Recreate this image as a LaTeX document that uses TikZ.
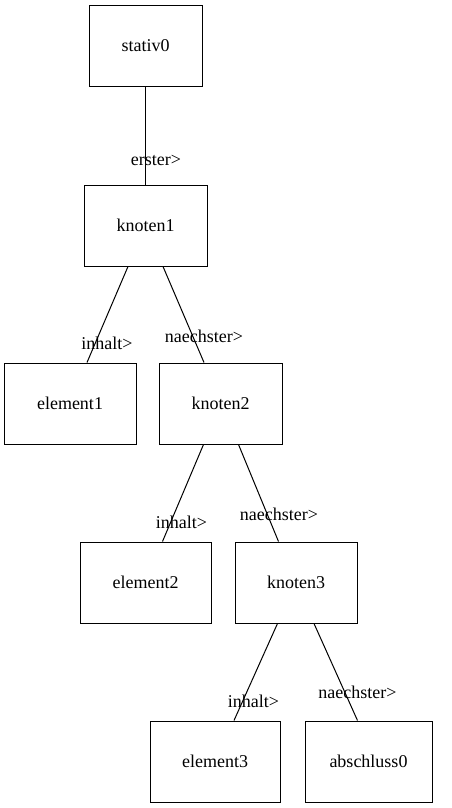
\documentclass[tikz,border=0pt]{standalone}
\usepackage{fontspec}
\setmainfont{Liberation Serif}
\usetikzlibrary{positioning}
\tikzset{
	listbox/.style={draw=black,line width=1pt,minimum height=81pt,inner sep=0pt,font=\fontsize{18}{20}\selectfont},
	refline/.style={black,line width=1pt},
	reflabel/.style={inner sep=0pt,font=\fontsize{18}{20}\selectfont}
}
\begin{document}
\begin{tikzpicture}[x=1pt,y=-1pt]
\useasboundingbox (0,0) rectangle (452,808);
% boxes
\node[listbox,minimum width=113pt,minimum height=80pt] (stativ0) at (145.5,46) {stativ0};
\node[listbox,minimum width=123pt] (knoten1) at (145.5,225.5) {knoten1};
\node[listbox,minimum width=132pt] (element1) at (70,403.5) {element1};
\node[listbox,minimum width=123pt] (knoten2) at (220.5,403.5) {knoten2};
\node[listbox,minimum width=131pt] (element2) at (145.5,582.5) {element2};
\node[listbox,minimum width=122pt] (knoten3) at (296,582.5) {knoten3};
\node[listbox,minimum width=130pt] (element3) at (215,761.5) {element3};
\node[listbox,minimum width=127pt] (abschluss0) at (368.5,761.5) {abschluss0};
% references
\draw[refline] (stativ0) -- (knoten1);
\draw[refline] ([xshift=-17.5pt]knoten1.south) -- ([xshift=17pt]element1.north);
\draw[refline] ([xshift=17.5pt]knoten1.south) -- ([xshift=-16.5pt]knoten2.north);
\draw[refline] ([xshift=-17pt]knoten2.south) -- ([xshift=17pt]element2.north);
\draw[refline] ([xshift=18pt]knoten2.south) -- ([xshift=-17.5pt]knoten3.north);
\draw[refline] ([xshift=-18.5pt]knoten3.south) -- ([xshift=19pt]element3.north);
\draw[refline] ([xshift=18pt]knoten3.south) -- ([xshift=-11pt]abschluss0.north);
% labels
\node[reflabel] (l01) at (156,160) {erster>};
\node[reflabel] (l11) at (107,343) {inhalt>};
\node[reflabel] (l12) at (204,336) {naechster>};
\node[reflabel] (l21) at (181.5,522) {inhalt>};
\node[reflabel] (l22) at (279,514) {naechster>};
\node[reflabel] (l31) at (253.5,701) {inhalt>};
\node[reflabel] (l32) at (357.5,692) {naechster>};
\end{tikzpicture}
\end{document}
